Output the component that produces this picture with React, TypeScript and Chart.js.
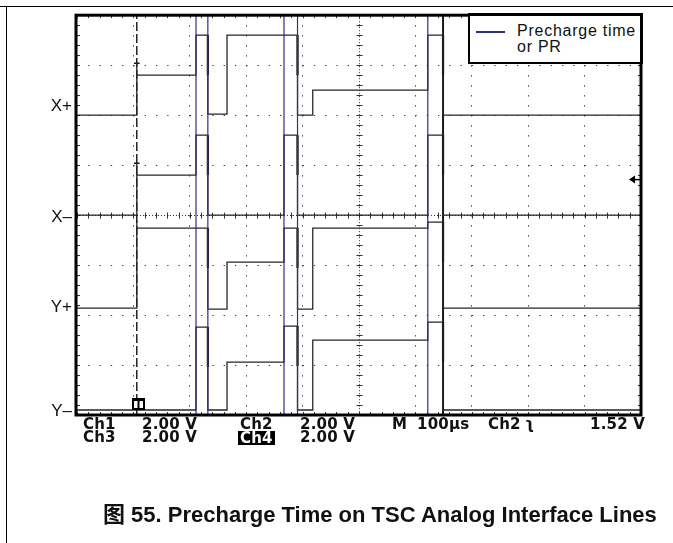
import React, { useEffect, useRef } from "react";
import { Chart, registerables } from "chart.js";

Chart.register(...registerables);

// Oscilloscope screen: 10 horizontal divisions of 100 µs, 8 vertical divisions.
// Vertical values are in divisions (0 = bottom edge of the screen, 8 = top edge).
const timeStops = [0, 106, 211, 232, 266, 367, 391, 418, 622, 649, 1000];
const xPlusLevels = [6.0, 6.8, 7.6, 6.02, 7.6, 7.6, 6.0, 6.5, 7.6, 6.0];
const xMinusLevels = [4.0, 4.8, 5.6, 4.0, 4.0, 5.6, 4.0, 4.0, 5.6, 4.0];
const yPlusLevels = [2.14, 3.74, 3.74, 2.12, 3.06, 3.74, 2.12, 3.74, 3.86, 2.14];
const yMinusLevels = [0.1, 0.1, 1.76, 0.1, 1.06, 1.78, 0.1, 1.5, 1.86, 0.1];
const triggerOvershoot = [7.04, 5.04, 3.9, null];
const prechargeTimes = [211, 232, 367, 391, 622];
const cursorTime = 649;
const triggerTime = 106;
const channelNames = ["Y–", "Y+", "X–", "X+"];
const channelMarkers = [0.08, 2.15, 3.95, 6.18];
const voltsPerDiv = 2.0;
const triggerVolts = 1.52;
const triggerChannelIndex = 2; // Ch2 on the X– trace
const timePerDiv = 100;
const screenDivsX = 10;
const screenDivsY = 8;

const EDGE_LEN = 0.8;
const CAP_HALF = 5;

type P = { x: number; y: number | null };

function stepPoints(levels: number[], overshoot: number | null): P[] {
  const pts: P[] = [];
  for (let i = 0; i < levels.length; i++) {
    if (i === 1 && overshoot != null) pts.push({ x: timeStops[1], y: overshoot });
    pts.push({ x: timeStops[i], y: levels[i] });
    pts.push({ x: timeStops[i + 1], y: levels[i] });
  }
  return pts;
}

function edgePoints(levels: number[]): P[] {
  const pts: P[] = [];
  for (let i = 1; i < levels.length; i++) {
    if (levels[i - 1] - levels[i] > 0.3) {
      pts.push({ x: timeStops[i], y: levels[i - 1] });
      pts.push({ x: timeStops[i], y: Math.max(levels[i], levels[i - 1] - EDGE_LEN) });
      pts.push({ x: timeStops[i], y: null });
    }
  }
  return pts;
}

function verticalLines(times: number[]): P[] {
  const pts: P[] = [];
  times.forEach((t) => {
    pts.push({ x: t, y: 0 });
    pts.push({ x: t, y: screenDivsY });
    pts.push({ x: t, y: null });
  });
  return pts;
}

const scopeDecor = {
  id: "scopeDecor",
  beforeDatasetsDraw(chart: any) {
    const { ctx, chartArea: a, scales } = chart;
    const cx = scales.x.getPixelForValue((screenDivsX * timePerDiv) / 2);
    const cy = scales.y.getPixelForValue(screenDivsY / 2);
    const dx = (a.right - a.left) / (screenDivsX * 5);
    const dy = (a.bottom - a.top) / (screenDivsY * 5);
    ctx.save();
    ctx.strokeStyle = "#333";
    ctx.lineWidth = 1;
    ctx.setLineDash([1, 2]);
    ctx.beginPath();
    ctx.moveTo(Math.round(cx) + 0.5, a.top);
    ctx.lineTo(Math.round(cx) + 0.5, a.bottom);
    ctx.moveTo(a.left, Math.round(cy) + 0.5);
    ctx.lineTo(a.right, Math.round(cy) + 0.5);
    ctx.stroke();
    ctx.setLineDash([]);
    ctx.beginPath();
    for (let k = 0; k <= screenDivsY * 5; k++) {
      const y = Math.round(a.top + k * dy) + 0.5;
      ctx.moveTo(cx - 2.5, y);
      ctx.lineTo(cx + 3.5, y);
      ctx.moveTo(a.left, y);
      ctx.lineTo(a.left + 3, y);
      ctx.moveTo(a.right - 3, y);
      ctx.lineTo(a.right, y);
    }
    for (let k = 0; k <= screenDivsX * 5; k++) {
      const x = Math.round(a.left + k * dx) + 0.5;
      ctx.moveTo(x, cy - 2.5);
      ctx.lineTo(x, cy + 3.5);
      ctx.moveTo(x, a.top);
      ctx.lineTo(x, a.top + 3);
      ctx.moveTo(x, a.bottom - 3);
      ctx.lineTo(x, a.bottom);
    }
    ctx.stroke();
    ctx.restore();
  },
  afterDatasetsDraw(chart: any) {
    const { ctx, chartArea: a, scales } = chart;
    ctx.save();
    // trigger position box at the bottom
    const tx = scales.x.getPixelForValue(triggerTime);
    const bx = Math.round(tx) - 5;
    const by = a.bottom - 17;
    ctx.fillStyle = "#000";
    ctx.fillRect(bx, by, 13, 12);
    ctx.fillStyle = "#fff";
    ctx.fillRect(bx + 2, by + 3, 3.5, 7);
    ctx.fillRect(bx + 7.5, by + 3, 3.5, 7);
    // trigger level arrow at the right edge
    const level = channelMarkers[triggerChannelIndex] + triggerVolts / voltsPerDiv;
    const ty = scales.y.getPixelForValue(level);
    ctx.fillStyle = "#000";
    ctx.beginPath();
    ctx.moveTo(a.right - 12, ty);
    ctx.lineTo(a.right - 6, ty - 4);
    ctx.lineTo(a.right - 6, ty + 4);
    ctx.closePath();
    ctx.fill();
    ctx.fillRect(a.right - 7, ty - 0.75, 7, 1.5);
    // screen frame
    ctx.strokeStyle = "#000";
    ctx.lineWidth = 3;
    ctx.strokeRect(a.left - 1, a.top, a.right - a.left + 1, a.bottom - a.top);
    ctx.restore();
  },
};

const monoFont = '"DejaVu Sans", Verdana, sans-serif';
const sansFont = '"Liberation Sans", Arial, Helvetica, "Noto Sans CJK SC", sans-serif';

function Readout(props: { left: number; top: number; text: string; inverse?: boolean }) {
  const style: React.CSSProperties = {
    position: "absolute",
    left: props.left,
    top: props.top,
    font: `bold 15px ${monoFont}`,
    lineHeight: "15px",
    whiteSpace: "pre",
    color: "#111",
    letterSpacing: "0.2px",
  };
  if (props.inverse) {
    style.background = "#000";
    style.color = "#fff";
    style.padding = "0 2px";
    style.lineHeight = "14px";
    style.top = props.top + 0.7;
    style.left = props.left - 2;
  }
  return <span style={style}>{props.text}</span>;
}

export default function App() {
  const canvasRef = useRef<HTMLCanvasElement | null>(null);

  useEffect(() => {
    const canvas = canvasRef.current;
    if (!canvas) return;
    const traceStyle = {
      borderColor: "#262626",
      borderWidth: 1.3,
      pointRadius: 0,
      tension: 0,
      spanGaps: false,
    };
    const chart = new Chart(canvas, {
      type: "line",
      data: {
        datasets: [
          {
            label: "Precharge time or PR",
            data: verticalLines(prechargeTimes) as any,
            borderColor: "#2c2c98",
            borderWidth: 1.2,
            pointRadius: 0,
            spanGaps: false,
          },
          { label: "X+", data: stepPoints(xPlusLevels, triggerOvershoot[0]) as any, ...traceStyle },
          { label: "X–", data: stepPoints(xMinusLevels, triggerOvershoot[1]) as any, ...traceStyle },
          { label: "Y+", data: stepPoints(yPlusLevels, triggerOvershoot[2]) as any, ...traceStyle },
          { label: "Y–", data: stepPoints(yMinusLevels, triggerOvershoot[3]) as any, ...traceStyle },
          {
            label: "edges",
            data: [
              ...edgePoints(xPlusLevels),
              ...edgePoints(xMinusLevels),
              ...edgePoints(yPlusLevels),
              ...edgePoints(yMinusLevels),
            ] as any,
            borderColor: "#111",
            borderWidth: 2.2,
            pointRadius: 0,
            spanGaps: false,
          },
          {
            label: "trigger caps",
            data: [0, 1].flatMap((i) => [
              { x: triggerTime - CAP_HALF, y: triggerOvershoot[i] },
              { x: triggerTime + CAP_HALF, y: triggerOvershoot[i] },
              { x: triggerTime + CAP_HALF, y: null },
            ]) as any,
            borderColor: "#111",
            borderWidth: 1.5,
            pointRadius: 0,
            spanGaps: false,
          },
          {
            label: "trigger",
            data: verticalLines([triggerTime]) as any,
            borderColor: "#111",
            borderWidth: 1.4,
            borderDash: [9, 3],
            pointRadius: 0,
            spanGaps: false,
          },
          {
            label: "cursor",
            data: verticalLines([cursorTime]) as any,
            borderColor: "#1a1a1a",
            borderWidth: 2,
            pointRadius: 0,
            spanGaps: false,
          },
        ],
      },
      options: {
        animation: false,
        responsive: false,
        events: [],
        layout: { padding: { left: 0, top: 15, right: 32, bottom: 128 } },
        plugins: { legend: { display: false }, tooltip: { enabled: false } },
        scales: {
          x: {
            type: "linear",
            min: 0,
            max: screenDivsX * timePerDiv,
            ticks: { display: false, stepSize: timePerDiv },
            grid: { color: "#333", lineWidth: 1, drawTicks: false },
            border: { display: false, dash: [1.3, 8.7] },
            afterFit: (s: any) => {
              s.height = 0;
            },
          },
          y: {
            type: "linear",
            position: "left",
            min: 0,
            max: screenDivsY,
            ticks: { display: false, stepSize: 1 },
            grid: { color: "#333", lineWidth: 1, drawTicks: false },
            border: { display: false, dash: [1.3, 9.98] },
            afterFit: (s: any) => {
              s.width = 0;
            },
          },
          yl: {
            type: "linear",
            position: "left",
            min: 0,
            max: screenDivsY,
            grid: { display: false, drawTicks: false },
            border: { display: false },
            afterBuildTicks: (s: any) => {
              s.ticks = channelMarkers.map((v) => ({ value: v }));
            },
            ticks: {
              autoSkip: false,
              padding: 5,
              color: "#111",
              font: { family: sansFont, size: 17 },
              callback: (_v: any, i: number) => channelNames[i],
            },
            afterFit: (s: any) => {
              s.width = 77;
            },
          },
        },
      } as any,
      plugins: [scopeDecor],
    });
    return () => chart.destroy();
  }, []);

  return (
    <div
      style={{
        position: "fixed",
        left: 0,
        top: 0,
        width: 673,
        height: 543,
        background: "#fff",
        overflow: "hidden",
      }}
    >
      <div style={{ position: "absolute", left: 0, top: 6, width: 673, height: 1, background: "#000" }} />
      <div style={{ position: "absolute", left: 6, top: 6, width: 1, height: 537, background: "#000" }} />
      <canvas
        ref={canvasRef}
        width={673}
        height={543}
        style={{ position: "absolute", left: 0, top: 0, display: "block" }}
      />
      {/* legend */}
      <div
        style={{
          position: "absolute",
          left: 468,
          top: 13,
          width: 175,
          height: 51,
          boxSizing: "border-box",
          borderStyle: "solid",
          borderColor: "#000",
          borderWidth: "3px 3px 2px 2px",
          background: "#fff",
        }}
      />
      <div style={{ position: "absolute", left: 476, top: 30.7, width: 29, height: 2, background: "#2b2b8f" }} />
      <div
        style={{
          position: "absolute",
          left: 517,
          top: 22.5,
          font: `16px ${sansFont}`,
          lineHeight: "16px",
          letterSpacing: "0.75px",
          color: "#111",
          whiteSpace: "nowrap",
        }}
      >
        <div>Precharge time</div>
        <div>or PR</div>
      </div>
      {/* scope readout */}
      <Readout left={83} top={417.3} text="Ch1" />
      <Readout left={142} top={417.3} text="2.00 V" />
      <Readout left={240} top={417.3} text="Ch2" />
      <Readout left={300} top={417.3} text="2.00 V" />
      <Readout left={392} top={417.3} text="M" />
      <Readout left={417} top={417.3} text="100µs" />
      <Readout left={488} top={417.3} text="Ch2" />
      <Readout left={525} top={417.3} text="ʅ" />
      <Readout left={590} top={417.3} text="1.52 V" />
      <Readout left={83} top={430.3} text="Ch3" />
      <Readout left={142} top={430.3} text="2.00 V" />
      <Readout left={240} top={430.3} text="Ch4" inverse />
      <Readout left={300} top={430.3} text="2.00 V" />
      {/* caption */}
      <div
        style={{
          position: "absolute",
          left: 103,
          top: 504.4,
          font: `bold 22px ${sansFont}`,
          lineHeight: "22px",
          color: "#111",
          whiteSpace: "nowrap",
        }}
      >
        图 55. Precharge Time on TSC Analog Interface Lines
      </div>
    </div>
  );
}
